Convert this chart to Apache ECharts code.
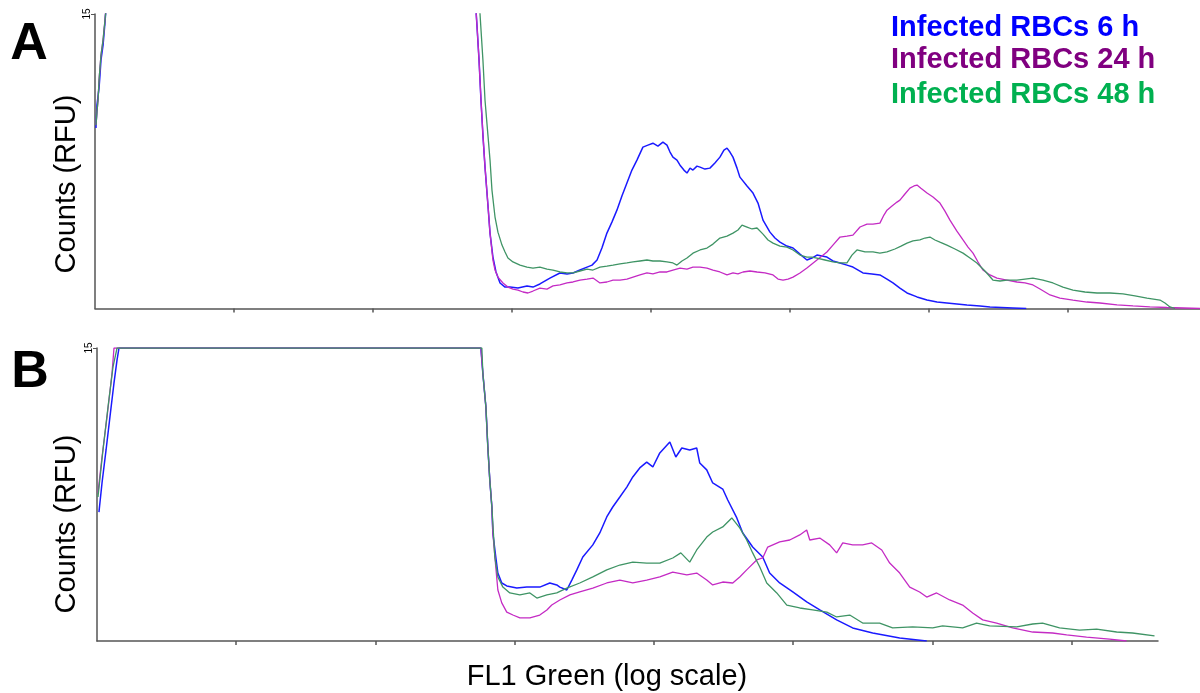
<!DOCTYPE html>
<html>
<head>
<meta charset="utf-8">
<script src="https://cdn.jsdelivr.net/npm/echarts@6/dist/echarts.min.js"></script>
<style>
  html, body { margin: 0; padding: 0; background: #fff; }
  #main { width: 1200px; height: 693px; }
</style>
</head>
<body>
<div id="main"></div>
<script>
// x = FL1 green, log decades from axis start; y = counts (axis tops out at 15)
var legendNames = ['Infected RBCs 6 h', 'Infected RBCs 24 h', 'Infected RBCs 48 h'];
var legendColors = ['#0000ff', '#800080', '#00b050'];
var lineColors = ['#1a1aff', '#c42bc4', '#3f9465'];
var yMax = 15;
var decadeTicks = [1, 2, 3, 4, 5, 6, 7];

// panel A
var aBlue = [[0.007,9.19],[0.014,10.36],[0.029,11.22],[0.036,11.89],[0.043,12.65],[0.058,13.41],[0.072,14.58],[0.086,15.96],
  [2.734,15.96],[2.748,14.43],[2.763,12.65],[2.777,10.61],[2.791,8.83],[2.806,7.20],[2.827,5.27],[2.842,3.84],[2.863,2.62],[2.885,1.86],[2.914,1.30],[2.950,1.09],[2.986,1.09],[3.043,1.04],[3.108,1.15],[3.151,1.09],[3.201,1.25],[3.273,1.55],[3.345,1.81],[3.396,1.76],[3.439,1.81],[3.489,1.96],[3.540,2.11],[3.576,2.21],[3.612,2.47],[3.647,3.08],[3.683,3.84],[3.719,4.40],[3.755,5.01],[3.791,5.73],[3.827,6.39],[3.863,7.05],[3.899,7.56],[3.942,8.22],[3.978,8.32],[4.014,8.42],[4.050,8.27],[4.086,8.47],[4.115,8.32],[4.137,7.97],[4.158,7.71],[4.187,7.56],[4.209,7.30],[4.237,7.05],[4.259,6.90],[4.281,7.15],[4.302,7.05],[4.331,7.25],[4.353,7.20],[4.388,7.10],[4.424,7.15],[4.460,7.41],[4.496,7.71],[4.525,8.07],[4.547,8.17],[4.568,7.97],[4.590,7.71],[4.619,7.15],[4.640,6.69],[4.691,6.24],[4.734,5.88],[4.770,5.37],[4.806,4.50],[4.856,3.89],[4.892,3.59],[4.928,3.38],[4.978,3.18],[5.022,3.08],[5.072,2.77],[5.122,2.47],[5.158,2.57],[5.194,2.72],[5.230,2.67],[5.266,2.62],[5.309,2.42],[5.360,2.32],[5.410,2.21],[5.453,2.11],[5.525,1.81],[5.590,1.76],[5.647,1.71],[5.698,1.50],[5.741,1.30],[5.791,1.04],[5.842,0.79],[5.914,0.59],[5.986,0.43],[6.058,0.33],[6.129,0.28],[6.201,0.23],[6.273,0.18],[6.367,0.13],[6.439,0.08],[6.604,0.03],[6.700,0]];
var aMagenta = [[0.007,9.34],[0.014,10.00],[0.022,10.61],[0.029,11.63],[0.043,12.90],[0.058,13.67],[0.072,14.69],[0.086,15.96],
  [2.734,15.96],[2.748,14.43],[2.763,12.65],[2.777,10.61],[2.791,8.83],[2.806,7.20],[2.827,5.27],[2.842,3.84],[2.863,2.47],[2.878,1.96],[2.899,1.60],[2.935,1.30],[2.971,1.09],[3.007,0.99],[3.043,0.94],[3.079,0.84],[3.115,0.79],[3.151,0.89],[3.201,1.04],[3.252,0.99],[3.295,1.15],[3.345,1.20],[3.396,1.30],[3.439,1.35],[3.489,1.45],[3.540,1.50],[3.583,1.55],[3.633,1.30],[3.683,1.35],[3.727,1.45],[3.777,1.45],[3.827,1.50],[3.871,1.60],[3.921,1.71],[3.971,1.81],[4.014,1.76],[4.065,1.86],[4.115,1.86],[4.158,1.96],[4.209,2.06],[4.259,2.01],[4.302,2.11],[4.353,2.11],[4.403,2.06],[4.446,1.96],[4.496,1.86],[4.547,1.71],[4.590,1.81],[4.626,1.76],[4.662,1.86],[4.712,1.91],[4.763,1.86],[4.820,1.81],[4.878,1.71],[4.914,1.50],[4.950,1.45],[4.986,1.50],[5.022,1.60],[5.072,1.81],[5.122,2.06],[5.158,2.27],[5.194,2.47],[5.230,2.67],[5.266,2.88],[5.309,3.23],[5.360,3.64],[5.410,3.69],[5.453,3.74],[5.504,4.15],[5.554,4.30],[5.597,4.30],[5.647,4.35],[5.676,4.76],[5.698,5.01],[5.734,5.22],[5.770,5.42],[5.791,5.52],[5.827,5.83],[5.863,6.13],[5.892,6.24],[5.914,6.29],[5.942,6.13],[5.986,5.88],[6.029,5.68],[6.079,5.37],[6.115,4.96],[6.151,4.50],[6.201,3.94],[6.245,3.49],[6.281,3.13],[6.317,2.82],[6.353,2.37],[6.388,1.96],[6.439,1.71],[6.489,1.55],[6.561,1.45],[6.633,1.35],[6.691,1.30],[6.748,1.20],[6.799,0.99],[6.871,0.69],[6.942,0.53],[7.036,0.43],[7.137,0.33],[7.230,0.28],[7.353,0.18],[7.468,0.13],[7.590,0.08],[7.712,0.05],[7.950,0]];
var aGreen = [[0.007,9.34],[0.014,10.00],[0.022,10.61],[0.029,11.63],[0.043,12.90],[0.058,13.67],[0.072,14.69],[0.079,15.2],[0.086,15.96],
  [2.763,15.96],[2.770,15.0],[2.791,12.65],[2.806,10.61],[2.827,8.83],[2.842,7.56],[2.856,6.03],[2.878,4.66],[2.899,3.89],[2.928,3.23],[2.950,2.88],[2.971,2.57],[3.007,2.37],[3.058,2.21],[3.108,2.11],[3.151,2.06],[3.201,2.11],[3.252,2.01],[3.295,1.96],[3.345,1.86],[3.396,1.81],[3.439,1.81],[3.489,1.91],[3.540,2.01],[3.583,1.96],[3.633,2.11],[3.683,2.16],[3.727,2.21],[3.777,2.27],[3.827,2.32],[3.871,2.37],[3.921,2.42],[3.971,2.47],[4.014,2.42],[4.065,2.42],[4.115,2.37],[4.158,2.32],[4.187,2.21],[4.223,2.42],[4.259,2.57],[4.302,2.82],[4.353,2.98],[4.403,3.08],[4.446,3.28],[4.496,3.59],[4.547,3.69],[4.590,3.84],[4.626,4.00],[4.655,4.25],[4.691,4.15],[4.727,4.05],[4.763,4.10],[4.806,3.79],[4.842,3.49],[4.878,3.33],[4.928,3.18],[4.978,3.13],[5.022,2.98],[5.072,2.72],[5.122,2.62],[5.158,2.62],[5.194,2.57],[5.252,2.47],[5.309,2.37],[5.360,2.32],[5.410,2.32],[5.446,2.72],[5.482,2.98],[5.540,2.88],[5.597,2.88],[5.647,2.82],[5.698,2.88],[5.755,3.03],[5.799,3.18],[5.842,3.33],[5.885,3.44],[5.935,3.49],[5.971,3.59],[6.007,3.64],[6.043,3.49],[6.079,3.38],[6.129,3.23],[6.187,3.03],[6.245,2.82],[6.295,2.57],[6.345,2.32],[6.403,1.91],[6.460,1.45],[6.511,1.40],[6.561,1.45],[6.633,1.45],[6.691,1.50],[6.748,1.55],[6.820,1.45],[6.892,1.30],[6.964,1.09],[7.036,0.94],[7.122,0.84],[7.209,0.79],[7.302,0.79],[7.396,0.74],[7.482,0.64],[7.568,0.53],[7.662,0.43],[7.698,0.28],[7.734,0.08],[7.770,0]];

// panel B
var bBlue = [[0.014,6.60],[0.036,8.09],[0.065,9.78],[0.093,11.47],[0.122,13.21],[0.144,14.39],[0.158,15.0],
  [2.757,15.0],[2.771,13.72],[2.793,11.98],[2.807,9.93],[2.821,8.24],[2.836,6.86],[2.843,5.53],[2.864,4.30],[2.879,3.48],[2.907,2.97],[2.943,2.82],[3.015,2.71],[3.087,2.76],[3.180,2.76],[3.252,2.97],[3.302,2.87],[3.324,2.76],[3.374,2.61],[3.410,3.12],[3.446,3.64],[3.489,4.30],[3.561,4.92],[3.611,5.53],[3.661,6.35],[3.704,6.86],[3.755,7.37],[3.805,7.88],[3.848,8.40],[3.898,8.86],[3.948,9.16],[3.992,8.91],[4.042,9.63],[4.114,10.19],[4.157,9.42],[4.200,9.88],[4.257,9.78],[4.307,9.88],[4.329,9.11],[4.379,8.76],[4.422,8.09],[4.494,7.78],[4.530,7.22],[4.595,6.30],[4.638,5.53],[4.709,4.81],[4.781,4.30],[4.831,3.48],[4.903,2.97],[4.997,2.51],[5.097,2.00],[5.191,1.59],[5.312,1.08],[5.427,0.67],[5.571,0.41],[5.765,0.15],[5.959,0]];
var bMagenta = [[0.007,7.58],[0.036,9.42],[0.072,11.47],[0.108,13.72],[0.122,15.0],
  [2.757,15.0],[2.771,13.72],[2.793,11.98],[2.807,9.93],[2.821,8.24],[2.836,6.86],[2.843,5.53],[2.864,3.79],[2.879,2.61],[2.907,1.95],[2.943,1.48],[2.987,1.33],[3.037,1.18],[3.109,1.18],[3.180,1.33],[3.231,1.59],[3.266,1.84],[3.324,2.10],[3.396,2.36],[3.467,2.51],[3.561,2.71],[3.661,2.97],[3.755,3.12],[3.848,2.97],[3.948,3.12],[4.042,3.28],[4.135,3.53],[4.236,3.38],[4.307,3.48],[4.379,3.12],[4.422,2.87],[4.494,3.02],[4.566,2.97],[4.616,3.28],[4.666,3.64],[4.738,4.15],[4.781,4.25],[4.817,4.81],[4.903,5.07],[4.975,5.17],[5.047,5.43],[5.097,5.68],[5.119,5.17],[5.191,5.27],[5.262,4.92],[5.312,4.51],[5.356,5.02],[5.427,4.92],[5.499,4.92],[5.564,5.02],[5.636,4.66],[5.693,3.99],[5.765,3.48],[5.837,2.76],[5.908,2.51],[5.959,2.25],[6.030,2.46],[6.124,2.10],[6.217,1.84],[6.289,1.43],[6.361,1.08],[6.461,0.92],[6.576,0.67],[6.720,0.46],[6.863,0.41],[6.964,0.31],[7.107,0.20],[7.272,0.10],[7.394,0]];
var bGreen = [[0.007,7.37],[0.043,9.78],[0.079,11.98],[0.115,14.03],[0.144,15.0],
  [2.764,15.0],[2.771,13.72],[2.793,11.98],[2.807,9.93],[2.821,8.24],[2.836,6.86],[2.857,4.30],[2.879,3.28],[2.915,2.76],[2.965,2.46],[3.037,2.36],[3.109,2.46],[3.159,2.20],[3.231,2.36],[3.302,2.46],[3.374,2.71],[3.467,2.97],[3.561,3.28],[3.661,3.64],[3.755,3.89],[3.848,4.04],[3.948,3.99],[4.042,3.99],[4.135,4.25],[4.193,4.51],[4.257,4.04],[4.307,4.66],[4.379,5.32],[4.422,5.58],[4.494,5.84],[4.559,6.30],[4.616,5.79],[4.666,5.17],[4.709,4.51],[4.760,3.79],[4.810,2.97],[4.882,2.46],[4.954,1.84],[5.047,1.69],[5.140,1.59],[5.241,1.48],[5.312,1.23],[5.406,1.33],[5.499,0.92],[5.621,0.92],[5.714,0.67],[5.858,0.72],[6.002,0.67],[6.073,0.77],[6.217,0.67],[6.317,0.92],[6.411,0.77],[6.605,0.72],[6.720,0.87],[6.791,0.92],[6.913,0.67],[7.057,0.56],[7.179,0.61],[7.323,0.46],[7.437,0.41],[7.595,0.26]];

var chart = echarts.init(document.getElementById('main'));
var font = 'Liberation Sans, Arial, sans-serif';
var axisColor = '#555';

function xAxisCfg(idx, max) {
  return {
    type: 'value', gridIndex: idx, min: 0, max: max, interval: 1,
    axisLine: { show: true, onZero: false, lineStyle: { color: axisColor, width: 1.5 } },
    axisTick: { show: true, length: 4, customValues: decadeTicks, lineStyle: { color: axisColor, width: 1.5 } },
    axisLabel: { show: false },
    splitLine: { show: false }
  };
}
function yAxisCfg(idx) {
  return {
    type: 'value', gridIndex: idx, min: 0, max: yMax, interval: yMax,
    axisLine: { show: true, lineStyle: { color: axisColor, width: 1.5 } },
    axisTick: { show: true, length: 4, customValues: [yMax], lineStyle: { color: axisColor, width: 1 } },
    axisLabel: {
      customValues: [yMax],
      rotate: 90, fontSize: 10, margin: 3, color: '#000', fontFamily: font
    },
    splitLine: { show: false }
  };
}
function line(data, color, idx, w) {
  return {
    type: 'line', xAxisIndex: idx, yAxisIndex: idx, data: data,
    symbol: 'none', clip: true, animation: false,
    lineStyle: { width: w, color: color }
  };
}
function txt(x, y, s, size, color, bold, rot, align) {
  return {
    type: 'text', x: x, y: y, rotation: rot || 0,
    style: {
      text: s, fill: color, font: (bold ? 'bold ' : '') + size + 'px ' + font,
      textAlign: align || 'center', textVerticalAlign: 'middle'
    }
  };
}

chart.setOption({
  backgroundColor: '#fff',
  animation: false,
  grid: [
    { left: 95, top: 14, width: 1105, height: 294.5 },
    { left: 97, top: 348, width: 1061, height: 293 }
  ],
  xAxis: [xAxisCfg(0, 7.95), xAxisCfg(1, 7.62)],
  yAxis: [yAxisCfg(0), yAxisCfg(1)],
  series: [
    line(aBlue, lineColors[0], 0, 1.5), line(aMagenta, lineColors[1], 0, 1.3), line(aGreen, lineColors[2], 0, 1.3),
    line(bBlue, lineColors[0], 1, 1.5), line(bMagenta, lineColors[1], 1, 1.3), line(bGreen, lineColors[2], 1, 1.3)
  ],
  graphic: [
    txt(29, 45, 'A', 52, '#000', true),
    txt(30, 373, 'B', 52, '#000', true),
    txt(891, 27.5, legendNames[0], 29, legendColors[0], true, 0, 'left'),
    txt(891, 60, legendNames[1], 29, legendColors[1], true, 0, 'left'),
    txt(891, 95, legendNames[2], 29, legendColors[2], true, 0, 'left'),
    txt(67, 184, 'Counts (RFU)', 29, '#000', false, Math.PI / 2),
    txt(67, 524, 'Counts (RFU)', 29, '#000', false, Math.PI / 2),
    txt(607, 677, 'FL1 Green (log scale)', 29, '#000', false)
  ]
});
</script>
</body>
</html>
